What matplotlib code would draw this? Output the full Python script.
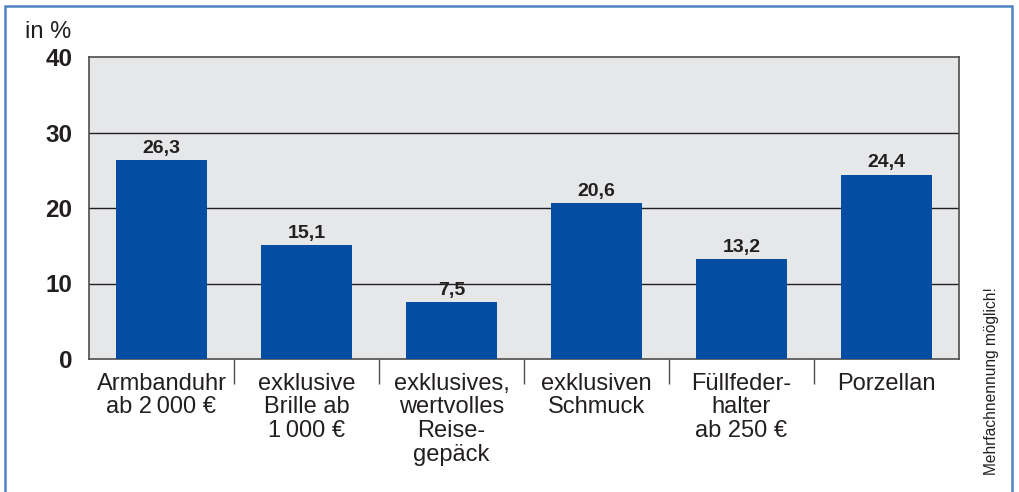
import matplotlib.pyplot as plt
from matplotlib.patches import Rectangle

plt.rcParams['font.family'] = ['Liberation Sans', 'DejaVu Sans']

kategorien = [
    "Armbanduhr\nab 2\u2009000 €",
    "exklusive\nBrille ab\n1\u2009000 €",
    "exklusives,\nwertvolles\nReise-\ngepäck",
    "exklusiven\nSchmuck",
    "Füllfeder-\nhalter\nab 250 €",
    "Porzellan",
]
werte = [26.3, 15.1, 7.5, 20.6, 13.2, 24.4]
y_ticks = [0, 10, 20, 30, 40]

W, H = 1020, 492
fig = plt.figure(figsize=(W / 100, H / 100), dpi=100)
ax = fig.add_axes([89 / W, (H - 359) / H, (959 - 89) / W, (359 - 57) / H])

balken_farbe = '#034ea2'
ax.set_facecolor('#e6e7e9')

x = list(range(len(werte)))
ax.bar(x, werte, width=0.63, color=balken_farbe, zorder=3)

for xi, v in zip(x, werte):
    ax.text(xi, v + 0.45, f"{v:.1f}".replace('.', ','), ha='center', va='bottom',
            fontsize=14, fontweight='bold', color='#231f20', zorder=4)

ax.set_xlim(-0.5, len(werte) - 0.5)
ax.set_ylim(0, 40)

# Gitterlinien
for t in y_ticks[1:-1]:
    ax.axhline(t, color='#231f20', lw=1.0, zorder=2)

ax.set_yticks(y_ticks)
ax.set_yticklabels([str(t) for t in y_ticks], fontsize=17.5, fontweight='bold', color='#231f20')
ax.tick_params(axis='y', length=0, pad=12)

# Kategorien unter der Achse, Trennstriche dazwischen
ax.set_xticks([i + 0.5 for i in x[:-1]])
ax.set_xticklabels([])
ax.tick_params(axis='x', direction='out', length=18, width=1.0, color='#4d4d4d')
for xi, lab in zip(x, kategorien):
    ax.text(xi, -1.8, lab, ha='center', va='top', fontsize=17, color='#231f20',
            linespacing=1.1, transform=ax.transData, clip_on=False)

for s in ax.spines.values():
    s.set_color('#4d4d4d')
    s.set_linewidth(1.2)

fig.text(25 / W, 1 - 32 / H, "in %", fontsize=17, color='#231f20', va='center', ha='left')
fig.text(992 / W, 1 - 381 / H, "Mehrfachnennung möglich!", rotation=90, fontsize=11.2,
         color='#231f20', ha='center', va='center')

# blauer Rahmen
fig.patches.append(Rectangle((5 / W, -0.05), (1012 - 5) / W, 1 - 6 / H + 0.05,
                             transform=fig.transFigure, fill=False,
                             edgecolor='#4f82c4', lw=1.8))

fig.savefig('out.png', dpi=100)
